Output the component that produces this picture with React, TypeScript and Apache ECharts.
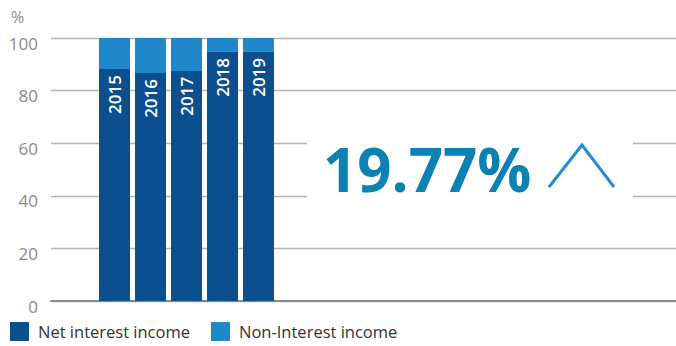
import React, { useEffect, useRef } from "react";
import * as echarts from "echarts";

const years = ["2015", "2016", "2017", "2018", "2019"];
const netInterest = [88.2, 86.7, 87.5, 94.7, 94.7];
const nonInterest = [11.8, 13.3, 12.5, 5.3, 5.3];
const yTicks = [0, 20, 40, 60, 80, 100];
const headline = "19.77%";

const FONT = "'Open Sans', 'Noto Sans', sans-serif";

export default function App() {
  const ref = useRef<HTMLDivElement>(null);
  useEffect(() => {
    if (!ref.current) return;
    const chart = echarts.init(ref.current, undefined, { renderer: "svg" });
    chart.setOption({
      animation: false,
      textStyle: { fontFamily: FONT },
      legend: {
        left: 10,
        top: 322,
        padding: 0,
        itemWidth: 19,
        itemHeight: 19,
        itemGap: 21,
        icon: "rect",
        textStyle: { fontSize: 16.5, color: "#333", fontFamily: FONT, lineHeight: 18, padding: [0, 0, 0, 4] },
        data: ["Net interest income", "Non-Interest income"],
      },
      grid: [
        { left: 51, right: 0, top: 38, bottom: 45 },
        { left: 96.5, width: 180, top: 38, bottom: 45 },
      ],
      xAxis: [
        {
          gridIndex: 0,
          type: "value",
          min: 0,
          max: 1,
          axisLine: { show: true, onZero: false, lineStyle: { color: "#8a8a8a", width: 2 } },
          axisTick: { show: false },
          axisLabel: { show: false },
          splitLine: { show: false },
        },
        {
          gridIndex: 1,
          type: "category",
          data: years,
          show: false,
        },
      ],
      yAxis: [
        {
          gridIndex: 0,
          type: "value",
          min: yTicks[0],
          max: yTicks[yTicks.length - 1],
          interval: 20,
          axisLine: { show: false },
          axisTick: { show: false },
          axisLabel: {
            fontSize: 17,
            color: "#8a8a8a",
            margin: 13,
            fontFamily: FONT,
            verticalAlign: "top",
            lineHeight: 10,
          },
          splitLine: { lineStyle: { color: "#b4b4b4", width: 1.3 } },
        },
        {
          gridIndex: 1,
          type: "value",
          min: 0,
          max: 100,
          show: false,
        },
      ],
      series: [
        {
          name: "Net interest income",
          type: "bar",
          stack: "total",
          xAxisIndex: 1,
          yAxisIndex: 1,
          barWidth: 31,
          itemStyle: { color: "#0b4f8f" },
          data: netInterest,
          label: {
            show: true,
            position: "insideTop",
            rotate: 90,
            align: "right",
            verticalAlign: "middle",
            distance: 6,
            color: "#ffffff",
            fontSize: 17,
            fontWeight: 600,
            fontFamily: FONT,
            formatter: (p: any) => years[p.dataIndex],
          },
        },
        {
          name: "Non-Interest income",
          type: "bar",
          stack: "total",
          xAxisIndex: 1,
          yAxisIndex: 1,
          barWidth: 31,
          itemStyle: { color: "#1f88c9" },
          data: nonInterest,
        },
      ],
      graphic: [
        {
          type: "text",
          left: 11,
          top: 9,
          style: { text: "%", fontSize: 16, fill: "#8a8a8a", fontFamily: FONT },
        },
        {
          type: "rect",
          shape: { x: 307, y: 128, width: 326, height: 82 },
          style: { fill: "#ffffff" },
          z: 10,
        },
        {
          type: "text",
          x: 323,
          y: 169,
          z: 11,
          style: {
            text: headline,
            fontSize: 60,
            fontWeight: 700,
            fill: "#0a82b4",
            fontFamily: FONT,
            textVerticalAlign: "middle",
          },
        },
        {
          type: "polyline",
          z: 11,
          shape: { points: [[549, 187], [582, 145], [614, 187]] },
          style: { stroke: "#2a8bcb", lineWidth: 3, fill: "none" },
        },
      ],
    });
    return () => chart.dispose();
  }, []);
  return <div ref={ref} style={{ width: 676, height: 346, position: "absolute", left: 0, top: 0 }} />;
}
